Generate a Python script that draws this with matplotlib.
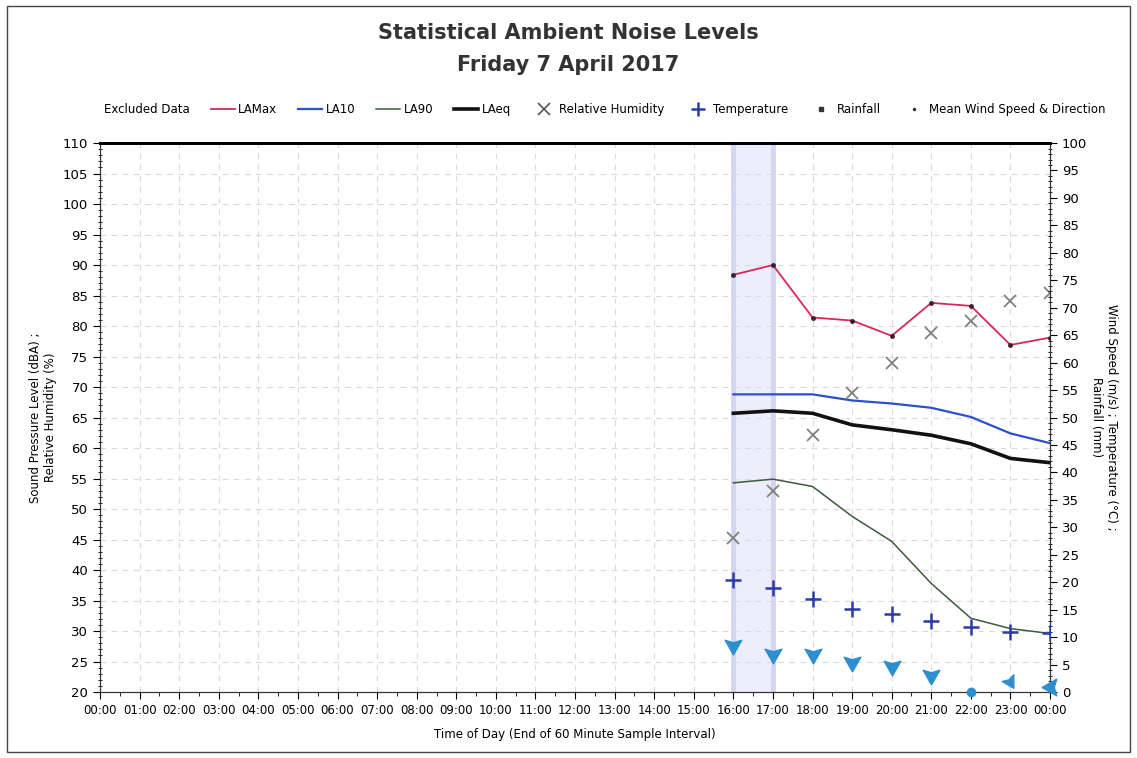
import numpy as np
import matplotlib.pyplot as plt
from matplotlib.lines import Line2D
from matplotlib.patches import Patch, Rectangle
from matplotlib.path import Path

# hourly results, 16:00 to 00:00 (end of interval)
hours = [16, 17, 18, 19, 20, 21, 22, 23, 24]
la_max = [88.4, 90.0, 81.4, 80.9, 78.4, 83.8, 83.3, 76.9, 78.1]
la10 = [68.8, 68.8, 68.8, 67.8, 67.3, 66.6, 65.1, 62.4, 60.8]
la90 = [54.3, 54.9, 53.7, 48.8, 44.7, 37.8, 32.1, 30.4, 29.6]
laeq = [65.7, 66.1, 65.7, 63.8, 63.0, 62.1, 60.7, 58.3, 57.6]
humidity = [45.2, 52.9, 62.1, 69.1, 74.0, 78.8, 80.9, 84.1, 85.4]
temperature = [20.4, 18.9, 16.9, 15.2, 14.3, 12.9, 11.8, 11.0, 10.8]
rainfall = [0, 0, 0, 0, 0, 0, 0, 0, 0]
wind_speed = [8.3, 6.8, 6.8, 5.3, 4.6, 2.9, 0.0, 1.9, 1.0]
wind_dir = [0, 0, 0, 0, 0, 0, 0, 330, 90]   # degrees, direction wind comes from
excluded = (16, 17)

tick_labels = ['%02d:00' % (h % 24) for h in range(25)]


def arrow_marker(from_deg):
    # arrowhead pointing the way the wind blows (down = from north)
    pts = np.array([[0, -1], [1, 0.75], [0, 0.45], [-1, 0.75], [0, -1]])
    a = np.radians(-from_deg)
    rot = np.array([[np.cos(a), -np.sin(a)], [np.sin(a), np.cos(a)]])
    pts = pts @ rot.T
    return Path(pts, [Path.MOVETO, Path.LINETO, Path.LINETO, Path.LINETO, Path.CLOSEPOLY])


plt.rcParams['font.family'] = 'DejaVu Sans'
fig = plt.figure(figsize=(11.37, 7.58), dpi=100)
fig.patches.append(Rectangle((0.006, 0.008), 0.988, 0.984, transform=fig.transFigure,
                             fill=False, edgecolor='#444444', linewidth=1.0))

ax = fig.add_axes([0.088, 0.087, 0.8355, 0.7243])
ax2 = ax.twinx()

ax.axvspan(excluded[0], excluded[1], color='#ededfc', zorder=0, lw=0)
for xe in excluded:
    ax.axvline(xe, color='#d4d4f6', lw=3.5, zorder=0.5)

ax.plot(hours, la_max, color='#d8285a', lw=1.3, zorder=3)
ax.plot(hours, la_max, ls='none', marker='o', ms=2.5, color='#3a2030', zorder=4)
ax.plot(hours, la10, color='#2b4fd0', lw=1.6, zorder=3)
ax.plot(hours, la90, color='#3c5a3c', lw=1.1, zorder=3)
ax.plot(hours, laeq, color='#111111', lw=2.6, zorder=3)
ax.plot(hours, humidity, ls='none', marker='x', ms=8, mew=1.3, color='#7c8478', zorder=4)

ax2.plot(hours, temperature, ls='none', marker='+', ms=11, mew=1.8, color='#2a3ca8', zorder=4)
ax2.bar(hours, rainfall, width=0.3, color='#333333', zorder=2)
for h, s, d in zip(hours, wind_speed, wind_dir):
    if s == 0:
        ax2.plot(h, s, ls='none', marker='o', ms=6, color='#2d8fd0', clip_on=False, zorder=5)
    else:
        ax2.plot(h, s, ls='none', marker=arrow_marker(d), ms=12, color='#2d8fd0',
                 clip_on=False, zorder=5)

ax.set_xlim(0, 24)
ax.set_ylim(20, 110)
ax2.set_ylim(0, 100)
ax.set_xticks(range(25))
ax.set_xticklabels(tick_labels, fontsize=8.5)
ax.set_xticks(np.arange(0.5, 24, 1), minor=True)
ax.set_yticks(range(20, 111, 5))
ax.set_yticks(range(20, 111, 1), minor=True)
ax2.set_yticks(range(0, 101, 5))
ax2.set_yticks(range(0, 101, 1), minor=True)
ax.tick_params(axis='both', which='major', labelsize=9.5, length=5, direction='out')
ax.tick_params(axis='x', which='major', labelsize=8.5)
ax.tick_params(axis='y', which='minor', length=3, direction='inout')
ax.tick_params(axis='x', which='minor', length=3)
ax2.tick_params(axis='y', which='major', labelsize=9.5, length=5)
ax2.tick_params(axis='y', which='minor', length=3, direction='inout')

ax.grid(True, which='major', color='#d9d9d9', linestyle=(0, (5, 5)), linewidth=0.8)
ax.set_axisbelow(True)
for sp in ['left', 'right', 'bottom']:
    ax.spines[sp].set_color('#333333')
    ax2.spines[sp].set_color('#333333')
ax.spines['top'].set_linewidth(2.0)
ax2.spines['top'].set_linewidth(2.0)

ax.set_xlabel('Time of Day (End of 60 Minute Sample Interval)', fontsize=8.5, labelpad=8)
ax.set_ylabel('Sound Pressure Level (dBA) ;\nRelative Humidity (%)', fontsize=8.5, labelpad=4)
ax2.set_ylabel('Wind Speed (m/s) ; Temperature (\u00b0C) ;\nRainfall (mm)', fontsize=8.5,
               rotation=270, labelpad=22)

fig.suptitle('Statistical Ambient Noise Levels\nFriday 7 April 2017', fontsize=15,
             fontweight='bold', color='#333333', y=0.97, linespacing=1.75)

handles = [
    Patch(facecolor='white', edgecolor='white', label='Excluded Data'),
    Line2D([], [], color='#d8285a', lw=1.3, label='LAMax'),
    Line2D([], [], color='#2b4fd0', lw=1.6, label='LA10'),
    Line2D([], [], color='#3c5a3c', lw=1.1, label='LA90'),
    Line2D([], [], color='#111111', lw=2.6, label='LAeq'),
    Line2D([], [], ls='none', marker='x', ms=8, mew=1.2, color='#555555', label='Relative Humidity'),
    Line2D([], [], ls='none', marker='+', ms=10, mew=1.8, color='#2a3ca8', label='Temperature'),
    Line2D([], [], ls='none', marker='s', ms=3, color='#333333', label='Rainfall'),
    Line2D([], [], ls='none', marker='.', ms=3, color='#333333', label='Mean Wind Speed & Direction'),
]
fig.legend(handles=handles, loc='center', bbox_to_anchor=(0.52, 0.855), ncol=9, frameon=False,
           fontsize=8.5, handlelength=2.0, handletextpad=0.3, columnspacing=1.8)

fig.savefig('out.png', dpi=100)
